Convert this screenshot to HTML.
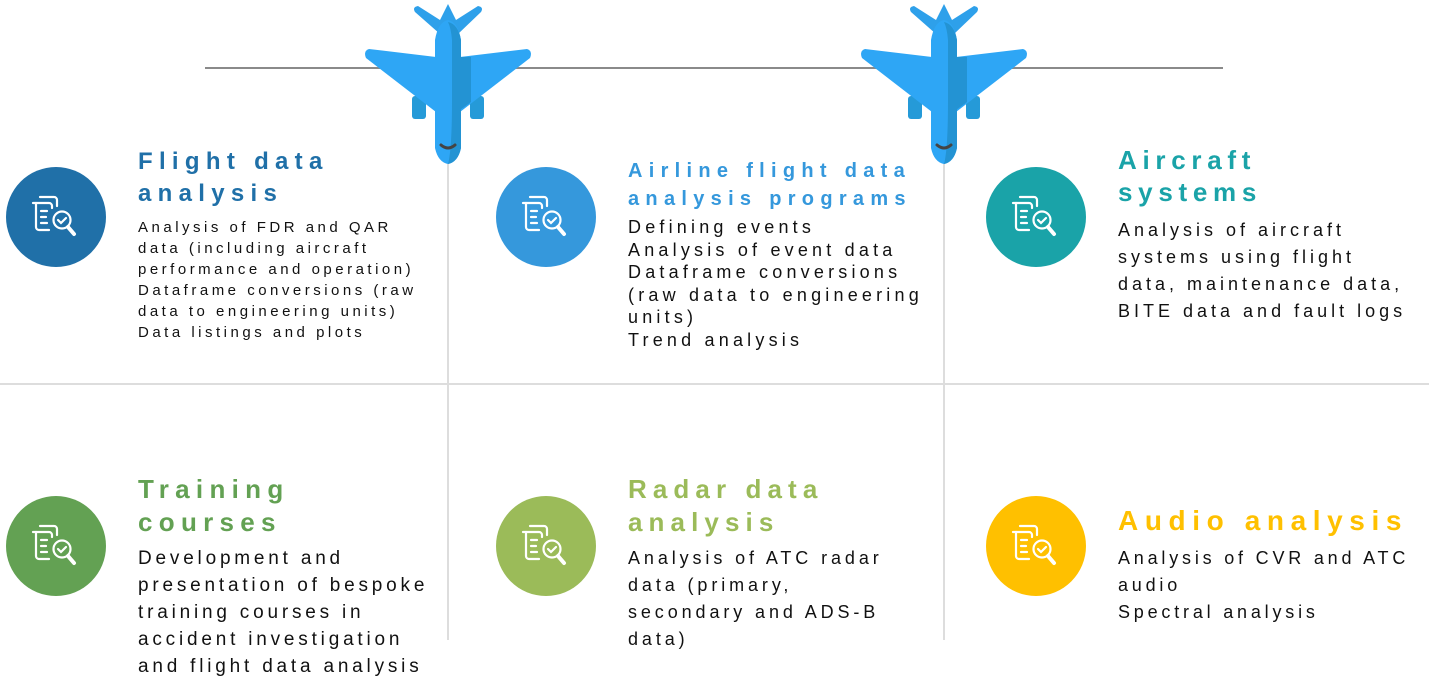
<!DOCTYPE html>
<html><head><meta charset="utf-8"><style>
body{margin:0;width:1429px;height:688px;background:#fff;position:relative;overflow:hidden;font-family:"Liberation Sans",sans-serif;}
.a{position:absolute}
.c{position:absolute;width:100px;height:100px;border-radius:50%}
.t{position:absolute;font-weight:bold;font-size:24px;letter-spacing:5px;line-height:32px;white-space:nowrap}
.b{position:absolute;color:#111;white-space:nowrap}
</style></head><body>
<div class="a" style="left:205px;top:67px;width:1018px;height:2px;background:#8a8a8a"></div>
<div class="a" style="left:0;top:383px;width:1429px;height:2px;background:#ddd"></div>
<div class="a" style="left:447px;top:160px;width:2px;height:480px;background:#ddd"></div>
<div class="a" style="left:943px;top:160px;width:2px;height:480px;background:#ddd"></div>

<svg width="0" height="0" style="position:absolute"><defs>
<g id="pl">
<path d="M55 12 Q52 7 58 6 L80 20 L88 4 L96 20 L118 6 Q124 7 121 12 L98 34 L80 34Z" fill="#2ea0ea"/>
<rect x="52" y="96" width="14" height="23" rx="3" fill="#259ad8"/>
<rect x="110" y="96" width="14" height="23" rx="3" fill="#259ad8"/>
<path d="M9 49 L76 57 L76 112 L6 58 Q3 51 9 49Z" fill="#2ea6f5"/>
<path d="M167 49 L100 57 L100 112 L170 58 Q173 51 167 49Z" fill="#2ea6f5"/>
<path d="M100 57 L111 57 L111 102 L100 110Z" fill="#2393d3"/>
<path d="M75 40 Q78 22 88 20 Q98 22 101 40 L101 148 Q98 162 88 164 Q78 162 75 148Z" fill="#2ea6f5"/>
<path d="M88 22 Q98 24 101 40 L101 148 Q98 162 88 164 Q92 150 92 100 L92 40 Q91 28 88 22Z" fill="#2393d3"/>
<path d="M81 145 Q88 151 95 145" stroke="#444" stroke-width="3" fill="none" stroke-linecap="round"/>
</g>
<g id="ic" fill="none" stroke="#fff" stroke-width="2.2" stroke-linecap="round">
<path d="M34 30 h14 a3 3 0 0 1 3 3 v6"/><path d="M27 36 h16 a3 3 0 0 1 3 3 v2"/>
<path d="M30 36 v24 a3 3 0 0 0 3 3 h10"/>
<line x1="35" y1="44" x2="41" y2="44"/><line x1="35" y1="50" x2="40" y2="50"/><line x1="35" y1="56" x2="41" y2="56"/>
<circle cx="56" cy="53" r="8.5"/><path d="M52 53 l3 3 l5 -5"/><path d="M62 60 l6 7" stroke-width="4"/>
</g></defs></svg>
<svg class="a" style="left:360px;top:0" width="180" height="170" viewBox="0 0 180 170"><use href="#pl"/></svg>
<svg class="a" style="left:856px;top:0" width="180" height="170" viewBox="0 0 180 170"><use href="#pl"/></svg>

<div class="c" style="left:6px;top:167px;background:#2070a8"><svg width="100" height="100" viewBox="0 0 100 100"><use href="#ic"/></svg></div>
<div class="c" style="left:496px;top:167px;background:#3598dc"><svg width="100" height="100" viewBox="0 0 100 100"><use href="#ic"/></svg></div>
<div class="c" style="left:986px;top:167px;background:#1aa3a8"><svg width="100" height="100" viewBox="0 0 100 100"><use href="#ic"/></svg></div>
<div class="c" style="left:6px;top:496px;background:#63a153"><svg width="100" height="100" viewBox="0 0 100 100"><use href="#ic"/></svg></div>
<div class="c" style="left:496px;top:496px;background:#9bbb59"><svg width="100" height="100" viewBox="0 0 100 100"><use href="#ic"/></svg></div>
<div class="c" style="left:986px;top:496px;background:#ffc000"><svg width="100" height="100" viewBox="0 0 100 100"><use href="#ic"/></svg></div>

<div class="t" style="left:138px;top:146px;color:#2070a8;letter-spacing:6.3px">Flight data<br>analysis</div>
<div class="b" style="left:138px;top:217px;font-size:15px;letter-spacing:3.5px;line-height:21px">Analysis of FDR and QAR<br>data (including aircraft<br>performance and operation)<br>Dataframe conversions (raw<br>data to engineering units)<br>Data listings and plots</div>

<div class="t" style="left:628px;top:157px;color:#3598dc;font-size:20px;letter-spacing:6.3px;line-height:28px">Airline flight data<br>analysis programs</div>
<div class="b" style="left:628px;top:216px;font-size:18px;letter-spacing:4.2px;line-height:22.5px">Defining events<br>Analysis of event data<br>Dataframe conversions<br>(raw data to engineering<br>units)<br>Trend analysis</div>

<div class="t" style="left:1118px;top:144px;color:#1aa3a8;font-size:26px;letter-spacing:5.7px;line-height:32px">Aircraft<br>systems</div>
<div class="b" style="left:1118px;top:217px;font-size:18px;letter-spacing:4px;line-height:27px">Analysis of aircraft<br>systems using flight<br>data, maintenance data,<br>BITE data and fault logs</div>

<div class="t" style="left:138px;top:473px;color:#63a153;font-size:26px;letter-spacing:6.3px;line-height:33px">Training<br>courses</div>
<div class="b" style="left:138px;top:545px;font-size:19px;letter-spacing:3.8px;line-height:27px">Development and<br>presentation of bespoke<br>training courses in<br>accident investigation<br>and flight data analysis</div>

<div class="t" style="left:628px;top:473px;color:#9bbb59;font-size:26px;letter-spacing:6.1px;line-height:33px">Radar data<br>analysis</div>
<div class="b" style="left:628px;top:545px;font-size:18px;letter-spacing:3.9px;line-height:27px">Analysis of ATC radar<br>data (primary,<br>secondary and ADS-B<br>data)</div>

<div class="t" style="left:1118px;top:504px;color:#ffc000;font-size:28px;letter-spacing:6.6px;line-height:33px">Audio analysis</div>
<div class="b" style="left:1118px;top:545px;font-size:18px;letter-spacing:3.8px;line-height:27px">Analysis of CVR and ATC<br>audio<br>Spectral analysis</div>
</body></html>
